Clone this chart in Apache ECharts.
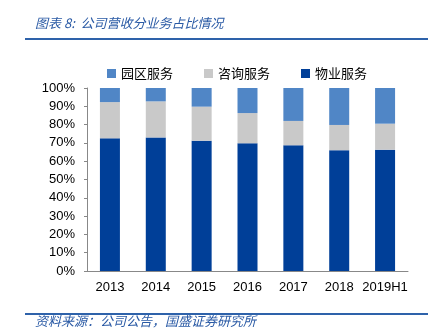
<!DOCTYPE html>
<html><head><meta charset="utf-8">
<script src="https://cdn.jsdelivr.net/npm/echarts@6/dist/echarts.min.js"></script>
<style>html,body{margin:0;padding:0;background:#fff}#c{width:443px;height:336px}</style>
</head><body><div id="c"></div>
<script>
var categories = ['2013','2014','2015','2016','2017','2018','2019H1'];
var yTickLabels = ['0%','10%','20%','30%','40%','50%','60%','70%','80%','90%','100%'];
var wuye = [72.5, 73.0, 71.2, 69.8, 68.7, 66.0, 66.3];
var zixun = [19.8, 19.7, 18.6, 16.5, 13.3, 13.8, 14.2];
var yuanqu = [7.7, 7.3, 10.2, 13.7, 18.0, 20.2, 19.5];
var titleText = '图表 8:  公司营收分业务占比情况';
var sourceText = '资料来源：公司公告，国盛证券研究所';

var chart = echarts.init(document.getElementById('c'));
var cjk = '"Noto Sans CJK SC", sans-serif';
var lbl = '"Liberation Sans", Arial, sans-serif';
chart.setOption({
  animation: false,
  grid: {left: 87, right: 35, top: 88, bottom: 65},
  legend: {
    top: 62, left: 102, itemWidth: 9, itemHeight: 9, itemGap: 31,
    icon: 'rect',
    textStyle: {fontFamily: cjk, fontSize: 13, color: '#000'},
    data: ['园区服务','咨询服务','物业服务']
  },
  xAxis: {
    type: 'category', data: categories,
    axisLine: {lineStyle: {color: '#888'}},
    axisTick: {inside: true, length: 4, lineStyle: {color: '#888'}},
    axisLabel: {interval: 0, fontFamily: lbl, fontSize: 13, color: '#000', margin: 10}
  },
  yAxis: {
    type: 'value', min: 0, max: 100, interval: 10,
    axisLine: {show: true, lineStyle: {color: '#888'}},
    axisTick: {show: true, length: 3, lineStyle: {color: '#888'}},
    splitLine: {show: false},
    axisLabel: {fontFamily: lbl, fontSize: 13, color: '#000', margin: 12,
      formatter: function(v){ return yTickLabels[Math.round(v/10)]; }}
  },
  series: [
    {name: '物业服务', type: 'bar', stack: 's', data: wuye, barWidth: 20,
      itemStyle: {color: '#003f98'}},
    {name: '咨询服务', type: 'bar', stack: 's', data: zixun, barWidth: 20,
      itemStyle: {color: '#c9c9c9'}},
    {name: '园区服务', type: 'bar', stack: 's', data: yuanqu, barWidth: 20,
      itemStyle: {color: '#5086c6'}}
  ],
  graphic: [
    {type: 'text', left: 35, top: 17, style: {text: titleText, fill: '#2a5aa5',
      font: 'italic 13px "Noto Sans CJK SC", sans-serif'}},
    {type: 'rect', shape: {x: 25, y: 38, width: 403, height: 2}, style: {fill: '#2e62aa'}},
    {type: 'rect', shape: {x: 25, y: 313, width: 403, height: 2}, style: {fill: '#2e62aa'}},
    {type: 'text', left: 35, top: 315, style: {text: sourceText, fill: '#2a5aa5',
      font: 'italic 13px "Noto Sans CJK SC", sans-serif'}}
  ]
});
</script></body></html>
